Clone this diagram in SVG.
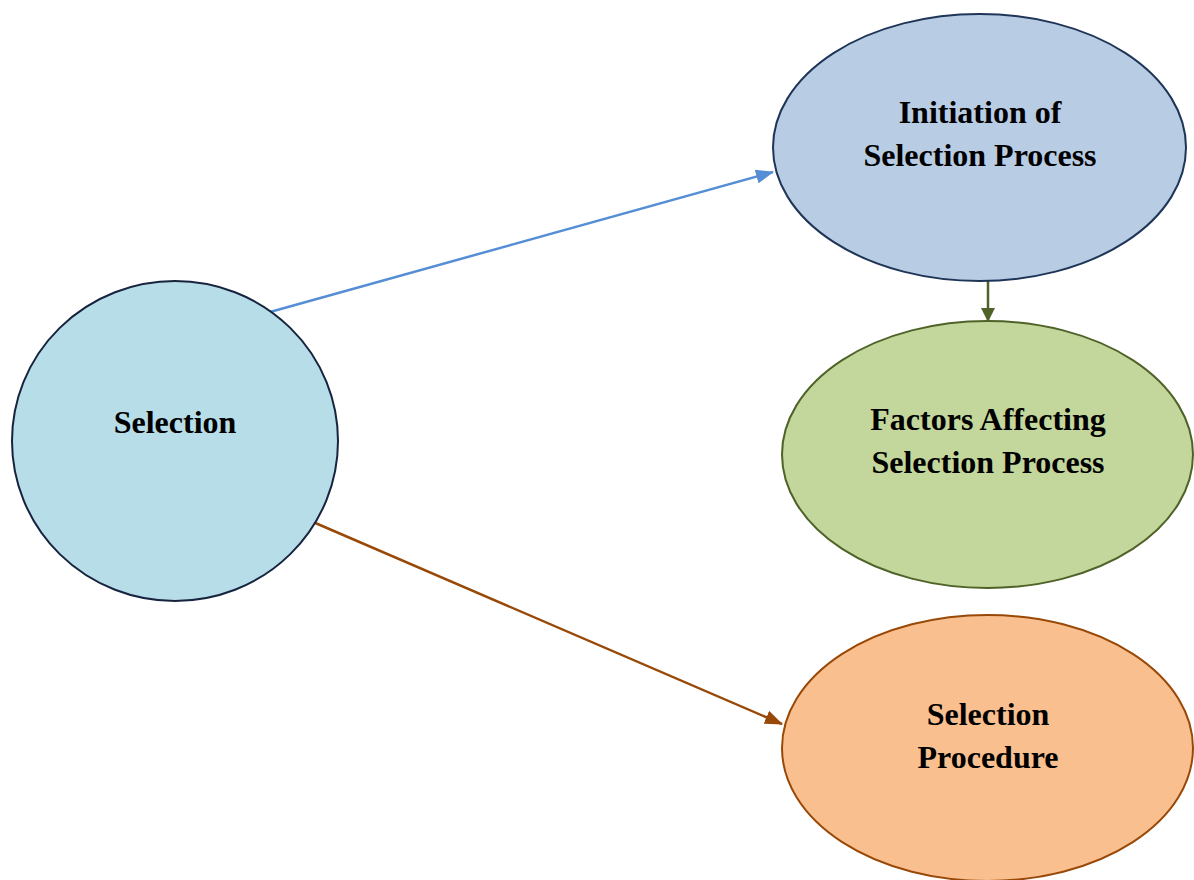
<svg xmlns="http://www.w3.org/2000/svg" width="1194" height="880" viewBox="0 0 1194 880">
<style>
.lbl{font-family:"Liberation Serif","Times New Roman",serif;font-weight:bold;font-size:32px;fill:#000;text-anchor:middle}
.n{stroke-width:2}
</style>
<defs>
<marker id="ab" markerWidth="18" markerHeight="14" refX="17" refY="7" orient="auto" markerUnits="userSpaceOnUse" viewBox="0 0 18 14"><path d="M0,0 L18,7 L0,14 z" fill="#558ED5"/></marker>
<marker id="ag" markerWidth="14" markerHeight="14" refX="13" refY="7" orient="auto" markerUnits="userSpaceOnUse" viewBox="0 0 14 14"><path d="M0,0 L14,7 L0,14 z" fill="#4F6228"/></marker>
<marker id="ao" markerWidth="18" markerHeight="14" refX="17" refY="7" orient="auto" markerUnits="userSpaceOnUse" viewBox="0 0 18 14"><path d="M0,0 L18,7 L0,14 z" fill="#984807"/></marker>
</defs>
<rect width="1194" height="880" fill="#fff"/>
<g id="connectors" fill="none">
<line x1="270" y1="312" x2="773" y2="172" stroke="#558ED5" stroke-width="2.5" marker-end="url(#ab)"/>
<line x1="988" y1="281" x2="988" y2="321" stroke="#4F6228" stroke-width="2.5" marker-end="url(#ag)"/>
<line x1="313" y1="522" x2="782" y2="724" stroke="#984807" stroke-width="2.5" marker-end="url(#ao)"/>
</g>
<g id="selection">
<ellipse class="n" cx="175" cy="441" rx="163" ry="160" fill="#B7DDE8" stroke="#17243F"/>
<text class="lbl" x="175" y="433">Selection</text>
</g>
<g id="initiation">
<ellipse class="n" cx="979.5" cy="147.5" rx="206.5" ry="133.5" fill="#B8CCE4" stroke="#1F3557"/>
<text class="lbl" x="980" y="123">Initiation of</text>
<text class="lbl" x="980" y="166">Selection Process</text>
</g>
<g id="factors">
<ellipse class="n" cx="987.5" cy="454.5" rx="205.5" ry="133.5" fill="#C3D69B" stroke="#4F6228"/>
<text class="lbl" x="988" y="430">Factors Affecting</text>
<text class="lbl" x="988" y="473">Selection Process</text>
</g>
<g id="procedure">
<ellipse class="n" cx="987.5" cy="748" rx="205.5" ry="133" fill="#FABF8F" stroke="#984807"/>
<text class="lbl" x="988" y="725">Selection</text>
<text class="lbl" x="988" y="768">Procedure</text>
</g>
</svg>
